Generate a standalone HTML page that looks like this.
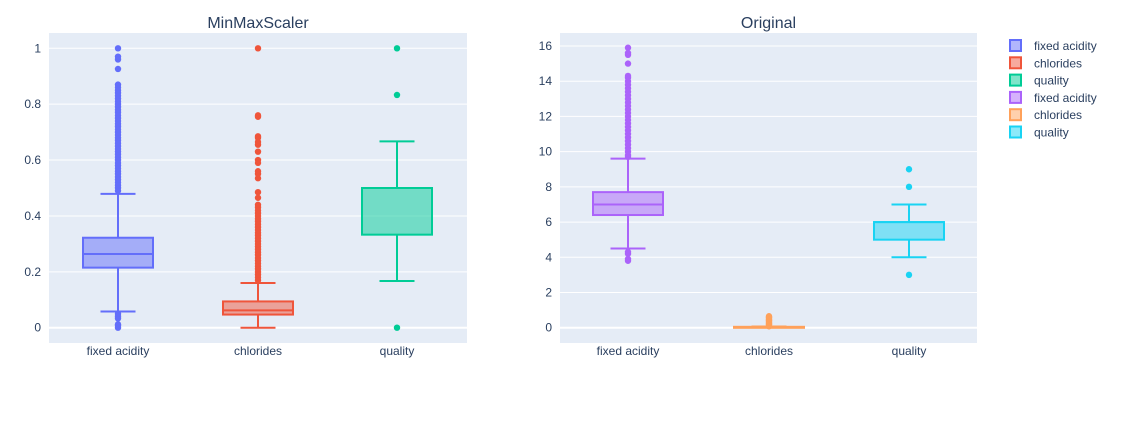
<!DOCTYPE html>
<html><head><meta charset="utf-8"><style>
body{margin:0;background:#fff;font-family:"Liberation Sans",sans-serif}
svg text{font-family:"Liberation Sans",sans-serif}
</style></head><body>
<svg id="c" width="1143" height="418" xmlns="http://www.w3.org/2000/svg"></svg>
<script>
const categories=["fixed acidity","chlorides","quality"];
const leftStats=[[0.058,0.215,0.264,0.322,0.479],[0,0.047,0.062,0.094,0.16],[0.167,0.333,0.5,0.5,0.667]];
const leftOutliers=[
[0,0.008,0.012,0.033,0.04,0.05,0.49,0.5,0.51,0.52,0.53,0.54,0.55,0.56,0.57,0.58,0.59,0.6,0.61,0.62,0.63,0.64,0.65,0.66,0.67,0.68,0.69,0.7,0.71,0.72,0.73,0.74,0.75,0.76,0.77,0.78,0.79,0.8,0.81,0.82,0.83,0.84,0.85,0.86,0.87,0.926,0.96,0.97,1],
[0.17,0.18,0.19,0.2,0.21,0.22,0.23,0.24,0.25,0.26,0.27,0.28,0.29,0.3,0.31,0.32,0.33,0.34,0.35,0.36,0.37,0.38,0.39,0.4,0.41,0.42,0.43,0.44,0.465,0.485,0.535,0.55,0.56,0.59,0.6,0.63,0.655,0.665,0.68,0.685,0.755,0.76,1],
[0,0.833,1]];
const rightStats=[[4.5,6.4,7.0,7.7,9.6],[0.009,0.036,0.043,0.05,0.071],[4,5,6,6,7]];
const rightOutliers=[
[3.8,3.9,4.2,4.3,9.7,9.8,10,10.2,10.4,10.6,10.8,11,11.2,11.4,11.6,11.8,12,12.2,12.4,12.6,12.8,13,13.2,13.4,13.6,13.8,14,14.2,14.3,15,15.5,15.6,15.9],
[0.08,0.1,0.15,0.2,0.25,0.3,0.35,0.4,0.45,0.5,0.55,0.6,0.65],
[3,8,9]];
const leftTicks=[0,0.2,0.4,0.6,0.8,1];
const leftTickLabels=["0","0.2","0.4","0.6","0.8","1"];
const rightTicks=[0,2,4,6,8,10,12,14,16];
const leftColors=["#636efa","#EF553B","#00cc96"];
const rightColors=["#ab63fa","#FFA15A","#19d3f3"];
const NS="http://www.w3.org/2000/svg";
const svg=document.getElementById('c');
function el(t,a,p){const e=document.createElementNS(NS,t);for(const k in a)e.setAttribute(k,a[k]);(p||svg).appendChild(e);return e;}
function panel(name,x0,x1,y0v,y1v,y0p,y1p,title,stats,outs,ticks,tlabels,cols,centers,bw){
  const g=el('g',{});
  
  
  const Y=v=>y0p+(v-y0v)*(y1p-y0p)/(y1v-y0v);
  const bg=el('rect',{x:x0,y:33,width:x1-x0,height:310,fill:'#E5ECF6'},g);
  
  
  ticks.forEach((t,i)=>{
    el('line',{x1:x0,x2:x1,y1:Y(t),y2:Y(t),stroke:'#fff','stroke-width':t===0?2:1},g);
    const tx=el('text',{x:x0-8,y:Y(t)+4,'text-anchor':'end','font-size':12,fill:'#2a3f5f'},g);
    tx.textContent=tlabels[i];
    
    
  });
  const tt=el('text',{x:(x0+x1)/2,y:28,'text-anchor':'middle','font-size':16,fill:'#2a3f5f'},g);
  tt.textContent=title;
  
  
  categories.forEach((c,i)=>{
    const cx=centers[i],s=stats[i],col=cols[i];
    const bx=el('g',{},g);
    
    
    el('line',{x1:cx,x2:cx,y1:Y(s[0]),y2:Y(s[1]),stroke:col,'stroke-width':2},bx);
    el('line',{x1:cx,x2:cx,y1:Y(s[3]),y2:Y(s[4]),stroke:col,'stroke-width':2},bx);
    el('line',{x1:cx-bw/4,x2:cx+bw/4,y1:Y(s[0]),y2:Y(s[0]),stroke:col,'stroke-width':2},bx);
    el('line',{x1:cx-bw/4,x2:cx+bw/4,y1:Y(s[4]),y2:Y(s[4]),stroke:col,'stroke-width':2},bx);
    el('rect',{x:cx-bw/2,y:Y(s[3]),width:bw,height:Math.max(1,Y(s[1])-Y(s[3])),fill:col,'fill-opacity':0.5,stroke:col,'stroke-width':2},bx);
    el('line',{x1:cx-bw/2,x2:cx+bw/2,y1:Y(s[2]),y2:Y(s[2]),stroke:col,'stroke-width':2},bx);
    outs[i].forEach(v=>{el('circle',{cx:cx,cy:Y(v),r:3.2,fill:col},bx);});
    const lx=el('text',{x:cx,y:355,'text-anchor':'middle','font-size':12,fill:'#2a3f5f'},g);
    lx.textContent=c;
    
    
  });
}
panel('left-panel',49,467,0,1,327.7,48.3,'MinMaxScaler',leftStats,leftOutliers,leftTicks,leftTickLabels,leftColors,[118,258,397],70);
panel('right-panel',560,977,0,16,327.7,46,'Original',rightStats,rightOutliers,rightTicks,rightTicks.map(String),rightColors,[628,769,909],70);
const lg=el('g',{});


const allCols=leftColors.concat(rightColors);
const names=categories.concat(categories);
names.forEach((n,i)=>{
  const y=46+i*17.3;
  const it=el('g',{},lg);
  
  
  el('rect',{x:1010,y:y-6,width:11,height:11,fill:allCols[i],'fill-opacity':0.5,stroke:allCols[i],'stroke-width':2},it);
  const t=el('text',{x:1034,y:y+4,'font-size':12,fill:'#2a3f5f'},it);
  t.textContent=n;
});
</script>
</body></html>
